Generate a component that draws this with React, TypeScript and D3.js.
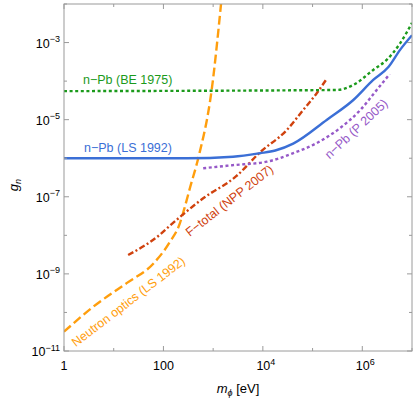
import React from "react";
import * as d3 from "d3";

// curves as [log10(m_phi / eV), log10(g_n)]
const beCurve = [[0, -4.26], [5.49, -4.23], [5.82, -4.1], [6.22, -3.71], [6.49, -3.45], [6.76, -3.02], [7.0, -2.49]];
const lsCurve = [[0, -6.0], [2.47, -6.0], [3.4, -5.96], [3.94, -5.87], [4.25, -5.8], [4.61, -5.62], [5.29, -5.0], [5.82, -4.49], [6.22, -3.97], [6.53, -3.63], [6.76, -3.19], [7.0, -2.81]];
const p2005Curve = [[2.8, -6.26], [3.4, -6.18], [4.08, -6.09], [4.61, -5.87], [5.08, -5.61], [5.55, -5.22], [5.96, -4.75], [6.29, -4.23], [6.55, -3.82]];
const nppCurve = [[1.29, -8.51], [1.93, -7.98], [2.13, -7.75], [2.8, -7.04], [3.47, -6.46], [3.94, -5.85], [4.48, -5.27], [4.81, -4.75], [5.08, -4.32], [5.29, -3.93]];
const opticsCurve = [[0, -10.5], [0.59, -9.85], [1.26, -9.24], [1.8, -8.73], [2.13, -8.17], [2.33, -7.69], [2.4, -7.4], [2.54, -6.74], [2.7, -6.0], [2.97, -4.23], [3.17, -1.85]];

const xMajor = [0, 2, 4, 6];
const xMinor = [1, 3, 5, 7];
const yMajor = [-11, -9, -7, -5, -3];
const yMinor = [-10, -8, -6, -4, -2];

const W = 415;
const H = 399;
const left = 64, right = 412, top = 4, bottom = 351;

const x = d3.scaleLog().domain([1, 1e7]).range([left, right]);
const y = d3.scaleLog().domain([1e-11, 1e-2]).range([bottom, top]);

const line = d3
  .line<number[]>()
  .x((d) => x(Math.pow(10, d[0])))
  .y((d) => y(Math.pow(10, d[1])))
  .curve(d3.curveMonotoneX);

const series = [
  { data: opticsCurve, color: "#ff9e0d", dash: "9,4" },
  { data: nppCurve, color: "#d0420e", dash: "6,2.5,2,2.5" },
  { data: beCurve, color: "#1b9a1b", dash: "3,2.6" },
  { data: p2005Curve, color: "#9659c8", dash: "3,2.6" },
  { data: lsCurve, color: "#3b6fd6", dash: null },
];

const labels = [
  { text: "n\u2212Pb (BE 1975)", color: "#1b9a1b", x: 83, y: 84, rot: 0, anchor: "start" },
  { text: "n\u2212Pb (LS 1992)", color: "#3b6fd6", x: 84, y: 152, rot: 0, anchor: "start" },
  { text: "n\u2212Pb (P 2005)", color: "#9659c8", x: 359, y: 132, rot: -43, anchor: "middle" },
  { text: "F\u2212total (NPP 2007)", color: "#d0420e", x: 232, y: 204, rot: -38, anchor: "middle" },
  { text: "Neutron optics (LS 1992)", color: "#ff9e0d", x: 131, y: 305, rot: -37.5, anchor: "middle" },
];

const font = "'Liberation Sans', Arial, sans-serif";

export default function App() {
  const frame = "#9a9a9a";
  return (
    <svg width={W} height={H} style={{ position: "absolute", left: 0, top: 0 }} fontFamily={font}>
      <defs>
        <clipPath id="plot">
          <rect x={left} y={top} width={right - left} height={bottom - top} />
        </clipPath>
      </defs>
      <rect x={0} y={0} width={W} height={H} fill="#fff" />
      <g clipPath="url(#plot)" fill="none" strokeWidth={2.4}>
        {series.map((s, i) => (
          <path key={i} d={line(s.data) || ""} stroke={s.color} strokeDasharray={s.dash || undefined} />
        ))}
      </g>
      {labels.map((l, i) => (
        <text
          key={i}
          x={l.x}
          y={l.y}
          fill={l.color}
          fontSize={12.5}
          textAnchor={l.anchor}
          transform={l.rot ? `rotate(${l.rot},${l.x},${l.y})` : undefined}
        >
          {l.text}
        </text>
      ))}
      <rect x={left} y={top} width={right - left} height={bottom - top} fill="none" stroke={frame} strokeWidth={1} />
      <g stroke={frame} strokeWidth={1}>
        {[...xMajor.map((e) => [e, 5]), ...xMinor.map((e) => [e, 3])].map(([e, len], i) => {
          const px = x(Math.pow(10, e));
          return (
            <g key={"x" + i}>
              <line x1={px} x2={px} y1={bottom} y2={bottom - len} />
              <line x1={px} x2={px} y1={top} y2={top + len} />
            </g>
          );
        })}
        {[...yMajor.map((e) => [e, 5]), ...yMinor.map((e) => [e, 3])].map(([e, len], i) => {
          const py = y(Math.pow(10, e));
          return (
            <g key={"y" + i}>
              <line x1={left} x2={left + len} y1={py} y2={py} />
              <line x1={right} x2={right - len} y1={py} y2={py} />
            </g>
          );
        })}
      </g>
      <g fill="#000" fontSize={12.5}>
        {yMajor.map((e) => (
          <text key={e} x={60} y={y(Math.pow(10, e)) + 5} textAnchor="end">
            10
            <tspan fontSize={9} dy={-5.5}>{"\u2212" + Math.abs(e)}</tspan>
          </text>
        ))}
        {xMajor.map((e) => {
          const px = x(Math.pow(10, e));
          if (e === 0) return <text key={e} x={px} y={370} textAnchor="middle">1</text>;
          if (e === 2) return <text key={e} x={px} y={370} textAnchor="middle">100</text>;
          return (
            <text key={e} x={px + 3} y={370} textAnchor="middle">
              10
              <tspan fontSize={9} dy={-5.5}>{e}</tspan>
            </text>
          );
        })}
      </g>
      <text x={238} y={393} textAnchor="middle" fontSize={13}>
        <tspan fontStyle="italic">m</tspan>
        <tspan fontStyle="italic" fontSize={9} dy={3}>{"\u03d5"}</tspan>
        <tspan dy={-3}> [eV]</tspan>
      </text>
      <text transform="translate(18,185) rotate(-90)" textAnchor="middle" fontSize={13}>
        <tspan fontStyle="italic">g</tspan>
        <tspan fontStyle="italic" fontSize={9} dy={3}>n</tspan>
      </text>
    </svg>
  );
}
